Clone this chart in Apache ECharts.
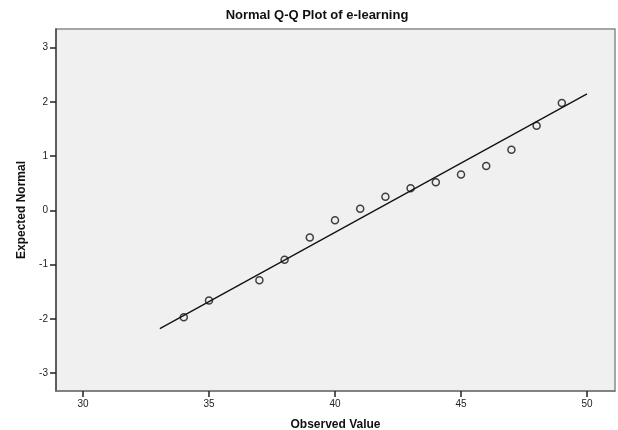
<!DOCTYPE html>
<html>
<head>
<meta charset="utf-8">
<script src="https://cdn.jsdelivr.net/npm/echarts@6/dist/echarts.min.js"></script>
<style>
    html, body { margin: 0; padding: 0; background: #fff; }
    #chart { width: 618px; height: 430px; }
</style>
</head>
<body>
<div id="chart"></div>
<script>
// observed values and their expected normal scores
var observed = [34, 35, 37, 38, 39, 40, 41, 42, 43, 44, 45, 46, 47, 48, 49]
var expected = [-1.97, -1.66, -1.29, -0.91, -0.5, -0.18, 0.03, 0.25, 0.41, 0.52, 0.66, 0.82, 1.12, 1.56, 1.98]
// reference line end points
var lineX = [33.05, 50]
var lineY = [-2.18, 2.15]
var xTicks = [30, 35, 40, 45, 50]
var yTicks = [-3, -2, -1, 0, 1, 2, 3]

var font = 'Liberation Sans, Arial, sans-serif'
var chart = echarts.init(document.getElementById('chart'))

var option = {
    animation: false,
    backgroundColor: '#fff',
    title: {
        text: 'Normal Q-Q Plot of e-learning',
        left: 312,
        top: 4,
        textAlign: 'center',
        textStyle: { fontFamily: font, fontSize: 13, fontWeight: 'bold', color: '#111' },
    },
    grid: {
        left: 56,
        right: 3,
        top: 29,
        bottom: 39,
        outerBoundsMode: 'none',
        containLabel: false,
        show: true,
        backgroundColor: '#f0f0f0',
        borderColor: '#8a8a8a',
        borderWidth: 1.5,
    },
    xAxis: {
        type: 'value',
        min: 28.93,
        max: 51.11,
        name: 'Observed Value',
        nameLocation: 'middle',
        nameGap: 28,
        nameTextStyle: { fontFamily: font, fontSize: 12, fontWeight: 'bold', color: '#111' },
        axisLine: { show: true, onZero: false, lineStyle: { color: '#777', width: 1.5 } },
        axisTick: { show: true, length: 6, customValues: xTicks, lineStyle: { color: '#222', width: 1.5 } },
        axisLabel: { customValues: xTicks, margin: 8, fontFamily: font, fontSize: 10, color: '#222' },
        splitLine: { show: false },
    },
    yAxis: {
        type: 'value',
        min: -3.33,
        max: 3.345,
        name: 'Expected Normal',
        nameLocation: 'middle',
        nameGap: 28,
        nameTextStyle: { fontFamily: font, fontSize: 12, fontWeight: 'bold', color: '#111' },
        axisLine: { show: true, onZero: false, lineStyle: { color: '#444', width: 1.5 } },
        axisTick: { show: true, length: 6, customValues: yTicks, lineStyle: { color: '#222', width: 1.5 } },
        axisLabel: { customValues: yTicks, margin: 8, fontFamily: font, fontSize: 10, color: '#222' },
        splitLine: { show: false },
    },
    series: [
        {
            type: 'line',
            data: [[lineX[0], lineY[0]], [lineX[1], lineY[1]]],
            showSymbol: false,
            lineStyle: { color: '#111', width: 1.3 },
            z: 2,
        },
        {
            type: 'scatter',
            data: observed.map(function (v, i) { return [v, expected[i]] }),
            symbol: 'circle',
            symbolSize: 7,
            itemStyle: { color: 'rgba(0,0,0,0)', borderColor: '#111', borderWidth: 1.5 },
            z: 3,
        },
    ],
}
option && chart.setOption(option)
</script>
</body>
</html>
